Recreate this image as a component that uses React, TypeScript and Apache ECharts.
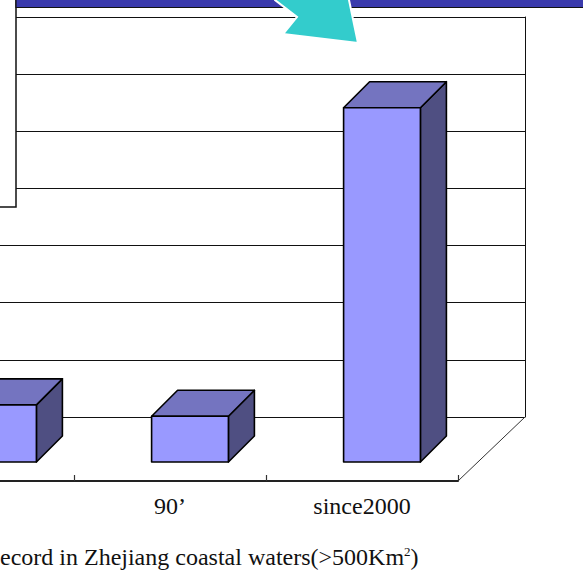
import React, { useEffect, useRef } from "react";
import * as echarts from "echarts";

// Decade categories and event counts
const categories = ["80’", "90’", "since2000"];
const counts = [5, 4, 31];
const axisMax = 35;
const axisStep = 5;
const captionMain = "ecord in Zhejiang coastal waters(>500Km";
const captionSup = "2";
const captionEnd = ")";

// Oblique 3D geometry: floor depth, bar position inside the floor, bar depth
const FLOOR_DX = 67;
const FLOOR_DY = -64;
const BAR_OFF_X = 20;
const BAR_OFF_Y = -19;
const BAR_DX = 26;
const BAR_DY = -26;

const GRID_LEFT = -118;
const GRID_WIDTH = 576;
const FLOOR_FRONT_Y = 481;
const PLOT_H = 400;

const FONT = "'Liberation Serif', 'DejaVu Serif', serif";

function renderBar(params: any, api: any) {
  const idx = api.value(0);
  const val = api.value(1);
  const base = api.coord([idx, 0]);
  const top = api.coord([idx, val]);
  const w = api.size([1, 0])[0] * 0.4;
  const x0 = base[0] + BAR_OFF_X - w / 2;
  const x1 = x0 + w;
  const yb = base[1] + BAR_OFF_Y;
  const yt = top[1] + BAR_OFF_Y;
  const stroke = { stroke: "#000", lineWidth: 1.6, lineJoin: "round" };
  return {
    type: "group",
    children: [
      {
        type: "polygon",
        shape: {
          points: [
            [x1, yt],
            [x1 + BAR_DX, yt + BAR_DY],
            [x1 + BAR_DX, yb + BAR_DY],
            [x1, yb],
          ],
        },
        style: { fill: "#4f4f82", ...stroke },
      },
      {
        type: "polygon",
        shape: {
          points: [
            [x0, yt],
            [x1, yt],
            [x1 + BAR_DX, yt + BAR_DY],
            [x0 + BAR_DX, yt + BAR_DY],
          ],
        },
        style: { fill: "#7474c0", ...stroke },
      },
      {
        type: "rect",
        shape: { x: x0, y: yt, width: w, height: yb - yt },
        style: { fill: "#9999ff", ...stroke },
      },
    ],
  };
}

export default function App() {
  const ref = useRef<HTMLDivElement>(null);

  useEffect(() => {
    if (!ref.current) return;
    const chart = echarts.init(ref.current, null, { renderer: "svg" });
    const floorRightX = GRID_LEFT + GRID_WIDTH;
    const option: any = {
      animation: false,
      backgroundColor: "#ffffff",
      grid: [
        {
          left: GRID_LEFT,
          width: GRID_WIDTH,
          top: FLOOR_FRONT_Y - PLOT_H,
          height: PLOT_H,
          outerBoundsMode: "none",
          containLabel: false,
        },
        {
          left: GRID_LEFT + FLOOR_DX,
          width: GRID_WIDTH,
          top: FLOOR_FRONT_Y - PLOT_H + FLOOR_DY,
          height: PLOT_H,
          outerBoundsMode: "none",
          containLabel: false,
        },
      ],
      xAxis: [
        {
          type: "category",
          gridIndex: 0,
          data: categories,
          boundaryGap: true,
          axisLine: { lineStyle: { color: "#222", width: 2 } },
          axisTick: {
            show: true,
            inside: true,
            length: 6,
            lineStyle: { color: "#333", width: 1.2 },
          },
          axisLabel: {
            interval: (index: number) => index > 0,
            margin: 13,
            color: "#111",
            fontSize: 24,
            fontFamily: FONT,
          },
          splitLine: { show: false },
        },
        {
          type: "category",
          gridIndex: 1,
          data: categories,
          show: false,
        },
      ],
      yAxis: [
        {
          type: "value",
          gridIndex: 0,
          min: 0,
          max: axisMax,
          interval: axisStep,
          show: false,
        },
        {
          type: "value",
          gridIndex: 1,
          min: 0,
          max: axisMax,
          interval: axisStep,
          position: "right",
          axisLine: { show: true, lineStyle: { color: "#111", width: 1 } },
          axisTick: { show: false },
          axisLabel: { show: false },
          splitLine: { show: true, lineStyle: { color: "#111", width: 1 } },
        },
      ],
      series: [
        {
          type: "custom",
          xAxisIndex: 0,
          yAxisIndex: 0,
          renderItem: renderBar,
          encode: { x: 0, y: 1 },
          data: counts.map((v, i) => [i, v]),
          z: 5,
        },
      ],
      graphic: [
        // floor right edge
        {
          type: "line",
          z: 1,
          shape: {
            x1: floorRightX,
            y1: FLOOR_FRONT_Y,
            x2: floorRightX + FLOOR_DX,
            y2: FLOOR_FRONT_Y + FLOOR_DY,
          },
          style: { stroke: "#333", lineWidth: 1 },
        },
        // panel on the left
        {
          type: "rect",
          z: 20,
          shape: { x: -10, y: -10, width: 26, height: 217 },
          style: { fill: "#fff", stroke: "#111", lineWidth: 1.5 },
        },
        // title band
        {
          type: "rect",
          z: 21,
          shape: { x: 16, y: -5, width: 600, height: 12.5 },
          style: { fill: "#3a3aac", stroke: "#111", lineWidth: 1.2 },
        },
        // arrow
        {
          type: "polygon",
          z: 22,
          shape: {
            points: [
              [272, -6],
              [275, 0],
              [297, 17],
              [283, 34],
              [358, 43],
              [349, 0],
              [348, -6],
            ],
          },
          style: { fill: "#33cccc", stroke: "#fff", lineWidth: 2 },
        },
        // caption
        {
          type: "text",
          z: 10,
          x: 0,
          y: 557,
          style: {
            text: `{t|${captionMain}}{s|${captionSup}}{t|${captionEnd}}`,
            textVerticalAlign: "middle",
            textAlign: "left",
            fill: "#111",
            rich: {
              t: { fontSize: 24, fontFamily: FONT, fill: "#111" },
              s: {
                fontSize: 13,
                fontFamily: FONT,
                fill: "#111",
                verticalAlign: "top",
              },
            },
          },
        },
      ],
    };
    chart.setOption(option);
    return () => chart.dispose();
  }, []);

  return (
    <div
      ref={ref}
      style={{ position: "fixed", left: 0, top: 0, width: 583, height: 582 }}
    />
  );
}
